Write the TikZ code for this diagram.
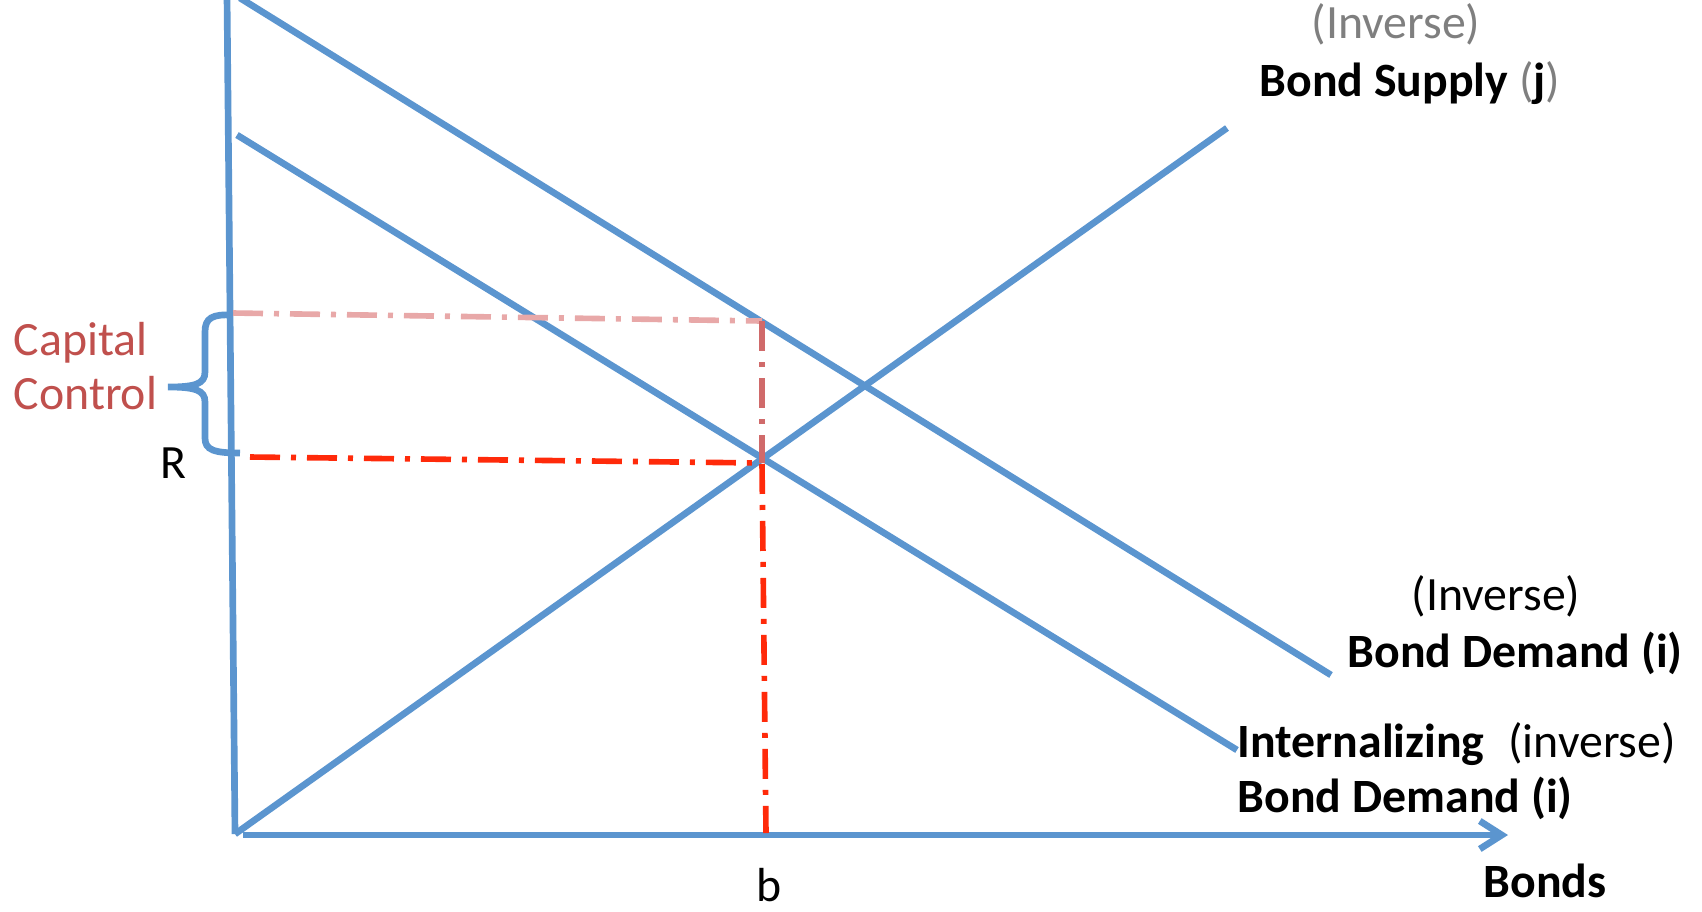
\documentclass[tikz,border=0pt]{standalone}
\usepackage{fontspec}
\setmainfont{Carlito}
\usetikzlibrary{arrows.meta}

\definecolor{curveblue}{HTML}{5B95CF}
\definecolor{ccred}{HTML}{C0504D}
\definecolor{lightred}{HTML}{E8A8A8}
\definecolor{midred}{HTML}{D06A6A}
\definecolor{eqred}{HTML}{FF2A0A}
\definecolor{invgray}{HTML}{7F7F7F}

\begin{document}
\begin{tikzpicture}[
    every node/.style={font=\fontsize{13.6}{16}\selectfont, inner sep=0pt},
    curve/.style={draw=curveblue, line width=1.9pt},
    axis/.style={curve, -{Straight Barb[length=2.2mm, width=2.8mm]}},
    guide/.style={line width=1.6pt, dash pattern=on 3mm off 1.1mm on 0.5mm off 1.1mm},
    lbl/.style={anchor=base west}]
  \useasboundingbox (0,0) rectangle (17.02,-9.11);

  \coordinate (O)    at (2.35,-8.34);
  \coordinate (ytop) at (2.27,0.05);
  \coordinate (xbeg) at (2.43,-8.35);
  \coordinate (xend) at (15.08,-8.35);
  \coordinate (S1)   at (12.27,-1.28);
  \coordinate (D0)   at (2.40,0.02);
  \coordinate (D1)   at (13.31,-6.75);
  \coordinate (I0)   at (2.37,-1.35);
  \coordinate (I1)   at (12.37,-7.50);
  \coordinate (E)    at (7.62,-4.63);
  \coordinate (Dp)   at (7.62,-3.21);
  \coordinate (Pl)   at (2.33,-3.13);
  \coordinate (Rl)   at (2.50,-4.57);
  \coordinate (Eb)   at (7.66,-8.33);
  \coordinate (Bt)   at (2.33,-3.15);
  \coordinate (Bb)   at (2.40,-4.53);
  \coordinate (Btip) at (1.68,-3.87);

  % axes and curves
  \draw[curve] (O) -- (ytop);
  \draw[axis] (xbeg) -- (xend);
  \draw[curve] (O) -- (S1);
  \draw[curve] (D0) -- (D1);
  \draw[curve] (I0) -- (I1);

  % rates
  \draw[guide, lightred] (Pl) -- (Dp);
  \draw[guide, midred] (Dp) -- (E);
  \draw[guide, eqred] (Rl) -- (E) -- (Eb);
  \draw[curve] (Bt) .. controls (2.12,-3.14) and (2.05,-3.18) .. (2.05,-3.32) -- (2.05,-3.72)
    .. controls (2.05,-3.84) and (1.95,-3.87) .. (Btip)
    .. controls (1.95,-3.87) and (2.05,-3.90) .. (2.05,-4.02) -- (2.05,-4.38)
    .. controls (2.05,-4.50) and (2.14,-4.53) .. (Bb);

  \node[lbl, ccred] (cap) at (0.13,-3.55) {Capital};
  \node[lbl, ccred] (ctl) at (0.13,-4.09) {Control};
  \node[lbl] (rlab) at (1.60,-4.78) {R};
  \node[anchor=base] (blab) at (7.69,-9.01) {b};
  \node[lbl] (bonds) at (14.83,-8.97) {\textbf{Bonds}};

  \node[lbl, invgray] (sinv) at (13.11,-0.38) {(Inverse)};
  \node[lbl] (sup) at (12.59,-0.96) {\textbf{Bond Supply} {\color{invgray}(}\textbf{j}{\color{invgray})}};
  \node[lbl] (dinv) at (14.11,-6.10) {(Inverse)};
  \node[lbl] (dem) at (13.47,-6.67) {\textbf{Bond Demand (i)}};
  \node[lbl] (iinv) at (12.37,-7.57) {\textbf{Internalizing}\hspace{0.5em}(inverse)};
  \node[lbl] (idem) at (12.37,-8.12) {\textbf{Bond Demand (i)}};
\end{tikzpicture}
\end{document}
